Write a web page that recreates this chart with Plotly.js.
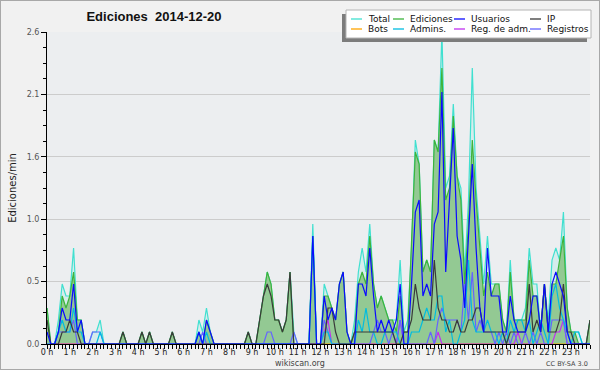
<!DOCTYPE html>
<html>
<head>
<meta charset="utf-8">
<script src="https://cdn.plot.ly/plotly-3.0.1.min.js"></script>
<style>
  html, body { margin:0; padding:0; background:#f1f1f1; overflow:hidden; }
  #wrap { position:absolute; left:0; top:0; width:598px; height:368px; border:1px solid #a8a8a8; background:#f1f1f1; }
  #plot { width:598px; height:368px; }
</style>
</head>
<body>
<div id="wrap"><div id="plot"></div></div>
<script>
// ---- Data: edits per minute, 10-minute bins, 2014-12-20 (144 bins) ----
const seriesNames = ['Total', 'Ediciones', 'Usuarios', 'IP', 'Bots', 'Admins.', 'Reg. de adm.', 'Registros'];
const seriesColors = ['#40e0d0', '#3cb43c', '#0a0aff', '#3a3a3a', '#ffa500', '#00bce0', '#c030f0', '#6464ff'];

const total = [
  0.3,0,0,0.2,0.5,0.4,0.4,0.8,0.2,0.2,0,0,
  0.1,0.1,0.2,0,0,0,0,0,0.1,0,0,0,
  0,0.1,0,0.1,0,0,0,0,0,0.1,0,0,
  0,0,0,0,0.2,0.1,0.3,0.1,0,0,0,0,
  0,0,0,0,0,0.1,0,0,0.2,0.4,0.6,0.5,
  0.2,0.2,0.1,0.2,0.6,0.1,0,0,0,0,1.0,0,
  0,0.5,0.4,0.3,0.2,0.5,0.6,0.1,0,0.2,0.6,0.8,
  0.6,1.0,0.5,0.3,0.4,0.3,0.2,0.2,0.2,0.7,0.1,0.2,
  0.8,1.7,1.5,0.6,0.7,0.6,1.7,1.6,2.6,1.3,1.4,2.0,
  1.4,1.3,0.6,1.2,2.3,1.3,0.9,0.5,0.9,0.5,0.5,0.5,
  0.2,0.1,0.7,0.2,0.2,0.2,0.3,0.8,0.5,0.5,0.1,0.5,
  0.2,0.7,0.8,0.7,1.1,0.3,0.1,0.1,0.1,0,0,0.2
];
const ediciones = [
  0.3,0,0,0.1,0.4,0.3,0.4,0.6,0.2,0.2,0,0,
  0,0,0,0,0,0,0,0,0.1,0,0,0,
  0,0.1,0,0.1,0,0,0,0,0,0.1,0,0,
  0,0,0,0,0.1,0,0.2,0.1,0,0,0,0,
  0,0,0,0,0,0.1,0,0,0.2,0.4,0.6,0.5,
  0.2,0.2,0.1,0.2,0.6,0,0,0,0,0,0.9,0,
  0,0.4,0.4,0.3,0.2,0.5,0.6,0.1,0,0.1,0.5,0.6,
  0.5,0.9,0.5,0.3,0.4,0.3,0.2,0.2,0.1,0.4,0.1,0.1,
  0.8,1.6,1.5,0.6,0.7,0.6,1.7,1.6,2.3,1.2,1.3,1.9,
  1.4,1.2,0.5,1.0,1.7,1.2,0.8,0.4,0.6,0.4,0.5,0.5,
  0.2,0.1,0.6,0.2,0.2,0.2,0.2,0.7,0.4,0.4,0.1,0.5,
  0.1,0.5,0.5,0.7,0.9,0.3,0.1,0.1,0,0,0,0.2
];
const usuarios = [
  0.1,0,0,0.1,0.3,0.2,0.2,0.5,0.1,0.2,0,0,
  0,0,0,0,0,0,0,0,0,0,0,0,
  0,0,0,0,0,0,0,0,0,0,0,0,
  0,0,0,0,0.1,0,0.2,0.1,0,0,0,0,
  0,0,0,0,0,0,0,0,0,0,0,0,
  0,0,0,0,0,0,0,0,0,0,0.9,0,
  0,0.4,0.2,0.3,0.2,0.5,0.6,0.1,0,0,0.5,0.5,
  0.4,0.8,0.4,0.1,0.2,0.1,0.2,0.1,0.2,0.5,0,0,
  0.5,1.1,1.2,0.4,0.5,0.4,1.0,1.1,2.1,0.6,1.2,1.8,
  0.9,0.7,0.3,0.9,1.5,0.8,0.3,0.1,0.8,0.4,0.4,0.4,
  0.1,0.1,0.4,0.2,0.1,0.1,0.1,0.2,0.4,0.4,0.1,0.5,
  0.1,0.5,0.6,0.5,0.4,0.1,0,0,0,0,0,0
];
const ip = [
  0.2,0,0,0,0.1,0.1,0.2,0.1,0.1,0,0,0,
  0,0,0,0,0,0,0,0,0.1,0,0,0,
  0,0.1,0,0.1,0,0,0,0,0,0.1,0,0,
  0,0,0,0,0,0,0,0,0,0,0,0,
  0,0,0,0,0,0.1,0,0,0.2,0.4,0.5,0.4,
  0.2,0.2,0.1,0.2,0.6,0,0,0,0,0,0,0,
  0,0,0.3,0.3,0.1,0,0,0,0,0.1,0.1,0.1,
  0.1,0.1,0.1,0.1,0.1,0.1,0.1,0.1,0,0,0.1,0.1,
  0.2,0.5,0.3,0.2,0.2,0.2,0.7,0.3,0.2,0.2,0.1,0.1,
  0.2,0.1,0.1,0.2,0.2,0.3,0.3,0.1,0.1,0.1,0.1,0.1,
  0.1,0,0.1,0.1,0.1,0.1,0.1,0.5,0.1,0.2,0.1,0.5,
  0.1,0.1,0.1,0.2,0.5,0.1,0.1,0,0,0,0,0.2
];
const bots = [
  0,0,0,0,0,0,0,0,0,0,0,0,
  0,0,0,0,0,0,0,0,0,0,0,0,
  0,0,0,0,0,0,0,0,0,0,0,0,
  0,0,0,0,0,0,0,0,0,0,0,0,
  0,0,0,0,0,0,0,0,0,0,0,0,
  0,0,0,0,0,0,0,0,0,0,0,0,
  0,0,0,0,0,0,0,0,0,0,0,0,
  0,0,0,0,0,0,0,0,0,0,0,0,
  0,0,0,0,0,0,0,0,0,0,0,0,
  0,0,0,0,0,0,0,0,0,0,0,0,
  0,0,0,0,0,0,0,0,0,0,0,0,
  0,0,0,0,0,0,0,0,0,0,0,0
];
const admins = [
  0,0,0,0.1,0.2,0.1,0.1,0.3,0.1,0.1,0,0,
  0,0,0.1,0,0,0,0,0,0,0,0,0,
  0,0,0,0,0,0,0,0,0,0,0,0,
  0,0,0,0,0.1,0,0.1,0,0,0,0,0,
  0,0,0,0,0,0,0,0,0,0,0,0,
  0,0,0,0,0,0,0,0,0,0,0.9,0,
  0,0.1,0.1,0,0,0,0,0,0,0,0.2,0.1,
  0.3,0.1,0.1,0,0,0.1,0.1,0.1,0.1,0,0,0,
  0.1,0.1,0.1,0.2,0.3,0.2,0.2,0.4,0.4,0.1,0.2,0,
  0,0.1,0.2,0.7,0.2,0.1,0.1,0.1,0.2,0.1,0.1,0,
  0.1,0,0.2,0.1,0.2,0.2,0.1,0.2,0,0.1,0.2,0.1,
  0,0.4,0.5,0.3,0.2,0.1,0,0.1,0.1,0,0,0
];
const regAdm = [
  0,0,0,0,0,0,0,0,0,0,0,0,
  0,0,0,0,0,0,0,0,0,0,0,0,
  0,0,0,0,0,0,0,0,0,0,0,0,
  0,0,0,0,0,0,0,0,0,0,0,0,
  0,0,0,0,0,0,0,0,0,0,0,0,
  0,0,0,0,0,0,0,0,0,0,0,0,
  0,0.1,0.2,0,0,0,0,0,0,0,0,0,
  0,0,0,0,0,0,0,0,0,0.2,0,0,
  0,0,0,0,0,0,0,0.1,0,0,0,0,
  0,0,0,0,0,0,0,0,0,0,0,0,
  0,0,0,0,0.1,0,0,0,0,0,0,0,
  0,0,0.1,0.1,0.2,0,0,0,0,0,0,0
];
const registros = [
  0,0,0,0.1,0.1,0.1,0.1,0.2,0,0,0,0,
  0.1,0.1,0.1,0,0,0,0,0,0,0,0,0,
  0,0,0,0,0,0,0,0,0,0,0,0,
  0,0,0,0,0,0.1,0,0,0,0,0,0,
  0,0,0,0,0,0,0,0,0,0,0.1,0.1,
  0,0,0,0,0,0.1,0,0,0,0,0,0,
  0,0.2,0.1,0,0,0,0,0,0,0,0,0,
  0,0,0.1,0.2,0.1,0.1,0,0.1,0,0.2,0,0,
  0,0,0,0,0,0.1,0,0.2,0.3,0.2,0.2,0.2,
  0.2,0.1,0.5,0.2,0.6,0.1,0.2,0.1,0.1,0.1,0,0.1,
  0,0.1,0,0.1,0,0,0.1,0,0.1,0,0.1,0,
  0,0.2,0.2,0.2,0.2,0,0,0,0,0,0,0
];

// y tick labels (axis is labelled in rounded steps)
const yTickVals = [0, 0.52, 1.04, 1.56, 2.08, 2.6];
const yTickText = ['0.0', '0.5', '1.0', '1.6', '2.1', '2.6'];

// time of each 10-minute bin, in hours
const hours = total.map((v, i) => i / 6);

// ---- Layout geometry ----
const W = 598, H = 368;
const M = {l: 46, r: 9, t: 31, b: 25};
const PW = W - M.l - M.r, PH = H - M.t - M.b;
// page pixel -> paper coordinates (page has a 1px border)
const px = x => (x - 1 - M.l) / PW;
const py = y => (H - M.b - (y - 1)) / PH;

const font = 'DejaVu Sans, sans-serif';

const seriesData = {
  'Total': total, 'Ediciones': ediciones, 'Usuarios': usuarios, 'IP': ip,
  'Bots': bots, 'Admins.': admins, 'Reg. de adm.': regAdm, 'Registros': registros
};
const colorOf = {};
seriesNames.forEach((n, k) => colorOf[n] = seriesColors[k]);

const drawOrder = ['Total', 'Ediciones', 'Bots', 'Reg. de adm.', 'Registros', 'Admins.', 'IP', 'Usuarios'];
const traces = drawOrder.map(name => {
  const t = {
    type: 'scatter', mode: 'lines', name: name,
    x: hours, y: seriesData[name],
    line: {color: colorOf[name], width: 1.2},
    showlegend: false, hoverinfo: 'skip'
  };
  if (name === 'Total') { t.fill = 'tozeroy'; t.fillcolor = 'rgba(64,224,208,0.13)'; }
  if (name === 'Ediciones') { t.fill = 'tozeroy'; t.fillcolor = '#93c993'; }
  return t;
});

// ---- Legend box (drawn as shapes + text) ----
const shapes = [
  {type: 'rect', xref: 'paper', yref: 'paper', layer: 'above',
   x0: px(342), x1: px(587), y0: py(42), y1: py(14),
   fillcolor: '#7c7c7c', line: {width: 0}},
  {type: 'rect', xref: 'paper', yref: 'paper', layer: 'above',
   x0: px(346), x1: px(591), y0: py(38), y1: py(10),
   fillcolor: '#ffffff', line: {color: '#b4b4b4', width: 1}}
];
const annotations = [];
const colText = [366, 408, 469, 545];
const rowY = [19, 29];
seriesNames.forEach((name, k) => {
  const row = Math.floor(k / 4), col = k % 4;
  const tx = colText[col], ty = rowY[row];
  shapes.push({type: 'line', xref: 'paper', yref: 'paper', layer: 'above',
    x0: px(tx - 15), x1: px(tx - 4), y0: py(ty), y1: py(ty),
    line: {color: colorOf[name], width: 1.3}});
  annotations.push({xref: 'paper', yref: 'paper', x: px(tx), y: py(ty),
    xanchor: 'left', yanchor: 'middle', showarrow: false, text: name,
    font: {family: font, size: 9, color: '#111'}});
});
annotations.push({xref: 'paper', yref: 'paper', x: px(300), y: py(363),
  xanchor: 'center', yanchor: 'middle', showarrow: false, text: 'wikiscan.org',
  font: {family: font, size: 8, color: '#444'}});
annotations.push({xref: 'paper', yref: 'paper', x: px(590), y: py(364),
  xanchor: 'right', yanchor: 'middle', showarrow: false, text: 'CC BY-SA 3.0',
  font: {family: font, size: 6.5, color: '#444'}});

const layout = {
  width: W, height: H,
  margin: {l: M.l, r: M.r, t: M.t, b: M.b, pad: 0},
  paper_bgcolor: '#f1f1f1',
  plot_bgcolor: '#eceef0',
  showlegend: false,
  title: {
    text: 'Ediciones\u00a0\u00a02014-12-20',
    font: {family: 'Liberation Sans, sans-serif', size: 13, weight: 'bold', color: '#111'},
    xref: 'container', yref: 'container',
    x: 153 / W, xanchor: 'center',
    y: 1 - 15 / H, yanchor: 'middle'
  },
  xaxis: {
    range: [0, 143 / 6],
    tickmode: 'linear', tick0: 0, dtick: 1, ticksuffix: ' h',
    ticks: 'outside', ticklen: 4, tickwidth: 1, tickcolor: '#000',
    ticklabelstandoff: -4,
    showline: true, linecolor: '#000', linewidth: 1,
    showgrid: false, zeroline: false,
    tickfont: {family: font, size: 8, color: '#222'},
    minor: {tick0: 0, dtick: 1 / 6, ticks: 'outside', ticklen: 4, tickcolor: '#000', showgrid: false},
    fixedrange: true
  },
  yaxis: {
    range: [0, 2.6],
    tickmode: 'array', tickvals: yTickVals, ticktext: yTickText,
    ticks: 'outside', ticklen: 5, tickwidth: 1, tickcolor: '#000',
    showline: true, linecolor: '#000', linewidth: 1,
    showgrid: true, gridcolor: '#cccccc', gridwidth: 1, zeroline: false,
    tickfont: {family: font, size: 8, color: '#555'},
    minor: {tick0: 0, dtick: 0.13, ticks: 'outside', ticklen: 3, tickcolor: '#000', showgrid: false},
    title: {text: 'Ediciones/min', font: {family: font, size: 10, color: '#222'}, standoff: 8},
    fixedrange: true
  },
  shapes: shapes,
  annotations: annotations
};

Plotly.newPlot('plot', traces, layout, {displayModeBar: false, staticPlot: true});
</script>
</body>
</html>
